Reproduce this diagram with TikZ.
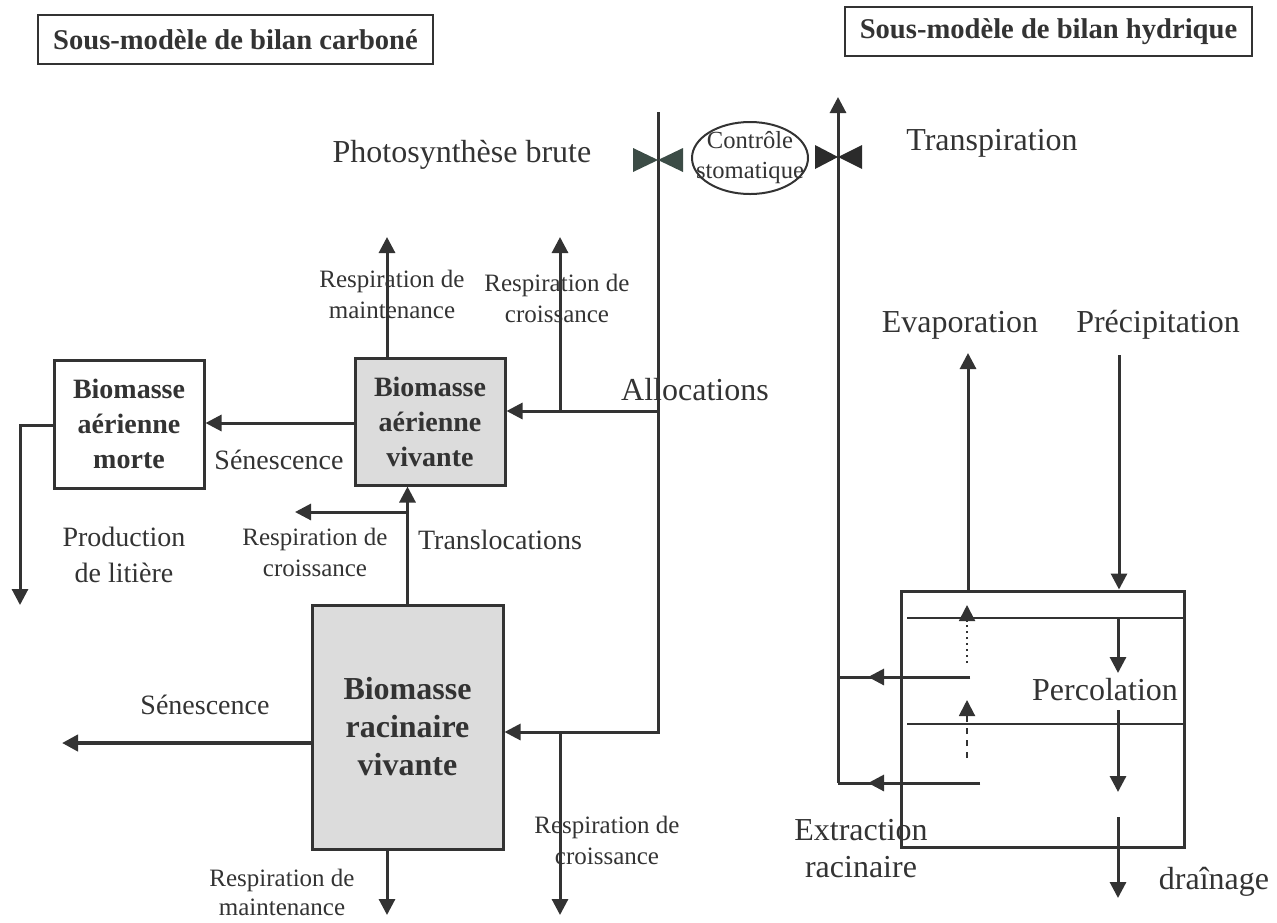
\documentclass[tikz,border=0pt]{standalone}
\usepackage{fontspec}
\setmainfont{Liberation Serif}
\usetikzlibrary{arrows.meta,shapes.geometric}
\definecolor{ink}{HTML}{333333}
\definecolor{boxgray}{HTML}{DCDCDC}
\definecolor{bowA}{HTML}{3C4C46}
\definecolor{bowB}{HTML}{2B2B2B}
\begin{document}
\begin{tikzpicture}[x=0.5pt,y=-0.5pt,color=ink,line width=1.5pt,
  flow/.style={-{Triangle[length=8pt,width=8pt]},line width=1.5pt},
  thinflow/.style={-{Triangle[length=8pt,width=8pt]},line width=1pt},
  lbig/.style={font=\fontsize{16}{19}\selectfont,inner sep=0pt,align=center},
  lmid/.style={font=\fontsize{14}{18}\selectfont,inner sep=0pt,align=center},
  lsmall/.style={font=\fontsize{12.5}{15.5}\selectfont,inner sep=0pt,align=center},
  titlebox/.style={draw=ink,line width=1pt,inner sep=0pt,minimum height=24.5pt,
     font=\fontsize{14.3}{17}\selectfont\bfseries},
  biobox/.style={draw=ink,line width=1.5pt,inner sep=0pt,align=center,
     font=\fontsize{14}{17.5}\selectfont\bfseries},
  livebox/.style={biobox,fill=boxgray},
]
\useasboundingbox (0,0) rectangle (1277,922);

% ---------- titles ----------
\node[titlebox,minimum width=197.5pt] (tc) at (235.5,39.5) {Sous-modèle de bilan carboné};
\node[titlebox,minimum width=203.5pt] (th) at (1048.5,31.5) {Sous-modèle de bilan hydrique};

% ---------- carbon boxes ----------
\node[biobox,minimum width=75pt,minimum height=64pt] (morte) at (129,424)
  {Biomasse\\aérienne\\morte};
\node[livebox,minimum width=75pt,minimum height=63.5pt] (viv) at (430,421.5)
  {Biomasse\\aérienne\\vivante};
\node[livebox,minimum width=95.5pt,minimum height=122pt,
      font=\fontsize{16}{19}\selectfont\bfseries] (root) at (407.5,727)
  {Biomasse\\racinaire\\vivante};

% ---------- stomatal control ----------
\node[ellipse,draw=ink,line width=1pt,minimum width=58pt,minimum height=36pt,inner sep=0pt] (stom) at (750,158) {};
\node[align=center,inner sep=0pt,font=\fontsize{12.3}{15}\selectfont] (lstom) at (stom.center)
  {Contrôle\\stomatique};

% ---------- photosynthesis / allocation line ----------
\coordinate (pT) at (658,112);
\coordinate (pB) at (658,732);
\coordinate (pA) at (658,411);
\draw[flow] (pT) -- (pB) -- (pB -| root.east);
\draw[flow] (pA) -- (pA -| viv.east);
\fill[bowA] (633,148) -- (658,160) -- (633,172) -- cycle;
\fill[bowA] (683,148) -- (658,160) -- (683,172) -- cycle;

% respiration (above live aerial biomass)
\coordinate (rm1) at (387,237);
\coordinate (rc1) at (560,237);
\draw[flow] (viv.north -| rm1) -- (rm1);
\draw[flow] (pA -| rc1) -- (rc1);

% senescence aerial
\coordinate (sen1) at (280,423);
\draw[flow] (viv.west |- sen1) -- (morte.east |- sen1);

% litter production
\coordinate (lt) at (20,425);
\coordinate (lit) at (20,605);
\draw[flow] (morte.west |- lt) -- (lt) -- (lit);

% translocations
\draw[flow] (root.north) -- (viv.south -| root.north);
\coordinate (rc2) at (295,512);
\draw[flow] (root.north |- rc2) -- (rc2);

% root senescence
\coordinate (sen2) at (62,743);
\draw[flow,line width=2pt] (root.west |- sen2) -- (sen2);

% root respiration
\coordinate (rm2) at (387,915);
\coordinate (rc3) at (560,915);
\draw[flow] (root.south -| rm2) -- (rm2);
\draw[flow] (pB -| rc3) -- (rc3);

% ---------- water balance ----------
\coordinate (tT) at (838,97);
\coordinate (tB) at (838,783);
\draw[flow] (tB) -- (tT);
\fill[bowB] (815,145) -- (838,157) -- (815,169) -- cycle;
\fill[bowB] (862,145) -- (838,157) -- (862,169) -- cycle;

\node[draw=ink,line width=1.5pt,minimum width=141.5pt,minimum height=128pt,inner sep=0pt] (soil) at (1042.5,719) {};
\coordinate (l1) at (907,618);
\coordinate (l2) at (907,724);
\draw[line width=1pt] (l1) -- (soil.east |- l1);
\draw[line width=1pt] (l2) -- (soil.east |- l2);

% extraction
\coordinate (ex1) at (970,677);
\coordinate (ex1h) at (868,677);
\coordinate (ex2) at (980,783);
\coordinate (ex2h) at (868,783);
\draw (ex1) -- (tB |- ex1);
\draw[flow] (ex1) -- (ex1h);
\draw (ex2) -- (tB);
\draw[flow] (ex2) -- (ex2h);

% capillary rise
\coordinate (cr1a) at (967,663);
\coordinate (cr1b) at (967,605);
\coordinate (cr2a) at (967,758);
\coordinate (cr2b) at (967,700);
\draw[thinflow,dotted] (cr1a) -- (cr1b);
\draw[thinflow,dashed] (cr2a) -- (cr2b);

% evaporation / precipitation
\coordinate (evT) at (968,353);
\coordinate (prT) at (1119,355);
\draw[flow] (soil.north -| evT) -- (evT);
\draw[flow] (prT) -- (soil.north -| prT);

% percolation / drainage
\coordinate (pc1b) at (1118,673);
\coordinate (pc2a) at (1118,710);
\coordinate (pc2b) at (1118,792);
\coordinate (pc3a) at (1118,817);
\coordinate (pc3b) at (1118,898);
\draw[flow] (l1 -| pc1b) -- (pc1b);
\draw[flow] (pc2a) -- (pc2b);
\draw[flow] (pc3a) -- (pc3b);

% ---------- labels ----------
\node[lbig] (lphot) at (462,155) {Photosynthèse brute};
\node[lbig] (ltrans) at (992,143) {Transpiration};
\node[lbig] (levap) at (960,325) {Evaporation};
\node[lbig] (lprec) at (1158,325) {Précipitation};
\node[lbig] (lalloc) at (695,390) {Allocations};
\node[lsmall] (lrm1) at (392,294) {Respiration de\\maintenance};
\node[lsmall] (lrc1) at (557,298) {Respiration de\\croissance};
\node[lmid] (lsen1) at (279,460) {Sénescence};
\node[lmid] (lprod) at (124,555) {Production\\de litière};
\node[lsmall] (lrc2) at (315,552) {Respiration de\\croissance};
\node[lmid] (ltransl) at (500,540) {Translocations};
\node[lmid] (lsen2) at (205,705) {Sénescence};
\node[lsmall] (lrc3) at (607,840) {Respiration de\\croissance};
\node[lsmall,font=\fontsize{12.5}{14.5}\selectfont] (lrm2) at (282,892) {Respiration de\\maintenance};
\node[lbig,font=\fontsize{16}{18.5}\selectfont] (lext) at (861,849) {Extraction\\racinaire};
\node[lbig] (lperc) at (1105,690) {Percolation};
\node[lbig] (ldrain) at (1214,882) {draînage};
\end{tikzpicture}
\end{document}
